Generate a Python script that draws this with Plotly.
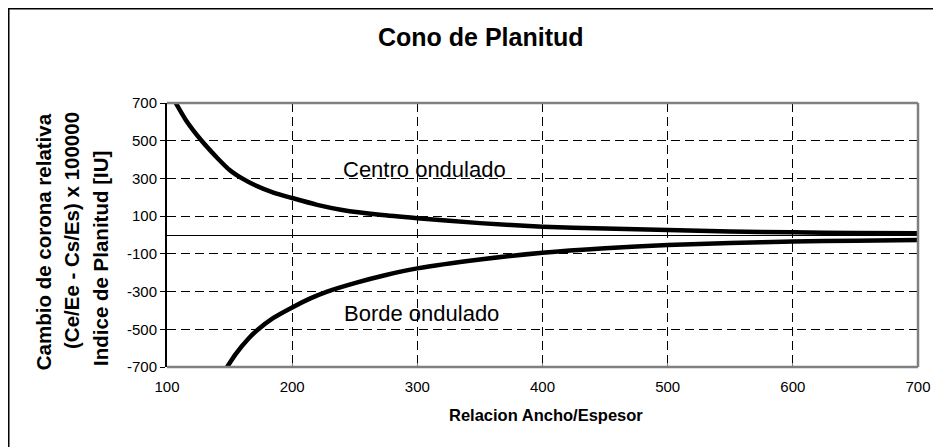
import plotly.graph_objects as go

# ---- data ----
centro_x = [107, 115, 127, 140, 150, 160, 170, 185, 200, 220, 240, 270, 300, 350, 400, 450, 500, 550, 600, 650, 700]
centro_y = [700, 610, 505, 410, 345, 300, 265, 225, 196, 160, 133, 107, 89, 63, 44, 34, 26, 19, 14, 11, 9]

borde_x = [148, 155, 165, 172, 185, 200, 215, 228, 250, 275, 300, 350, 400, 450, 500, 550, 600, 650, 700]
borde_y = [-700, -630, -550, -505, -440, -384, -335, -300, -255, -212, -177, -130, -94, -70, -53, -43, -35, -30, -26]

x_ticks = [100, 200, 300, 400, 500, 600, 700]
y_ticks = [-700, -500, -300, -100, 100, 300, 500, 700]

title_text = "Cono de Planitud"
x_title = "Relacion Ancho/Espesor"
y_title_lines = ["Cambio de corona relativa", "(Ce/Ee - Cs/Es) x 100000", "Indice de Planitud [IU]"]
label_centro = "Centro ondulado"
label_borde = "Borde ondulado"

FONT = "Liberation Sans, Arial, sans-serif"

fig = go.Figure()
fig.add_trace(go.Scatter(x=centro_x, y=centro_y, mode="lines",
                         line=dict(color="black", width=4.5, shape="spline", smoothing=0.6),
                         showlegend=False, hoverinfo="skip"))
fig.add_trace(go.Scatter(x=borde_x, y=borde_y, mode="lines",
                         line=dict(color="black", width=4.5, shape="spline", smoothing=0.6),
                         showlegend=False, hoverinfo="skip"))

grid = dict(showgrid=True, gridcolor="black", gridwidth=1, griddash="9px,5px")

fig.update_xaxes(range=[100, 700], tickvals=x_ticks, ticktext=[str(v) for v in x_ticks],
                 tickfont=dict(family=FONT, size=15, color="black"),
                 ticks="inside", ticklen=4, tickcolor="#808080", ticklabelstandoff=9,
                 showline=False, zeroline=False, **grid)
fig.update_yaxes(range=[-700, 700], tickvals=y_ticks, ticktext=[str(v) for v in y_ticks],
                 tickfont=dict(family=FONT, size=15, color="black"),
                 ticks="outside", ticklen=5, tickcolor="black", tickwidth=1,
                 showline=True, linecolor="black", linewidth=2,
                 zeroline=True, zerolinecolor="black", zerolinewidth=1, **grid)

shapes = [
    # plot frame (top, right, bottom) in grey
    dict(type="line", xref="paper", yref="paper", x0=0, x1=1, y0=1, y1=1, line=dict(color="#808080", width=2.5)),
    dict(type="line", xref="paper", yref="paper", x0=1, x1=1, y0=0, y1=1, line=dict(color="#808080", width=2.5)),
    dict(type="line", xref="paper", yref="paper", x0=0, x1=1, y0=0, y1=0, line=dict(color="#808080", width=2.5)),
    # outer chart frame (top and left edges visible, right/bottom run off the page)
    dict(type="rect", xref="paper", yref="paper", x0=-0.2107, x1=1.3, y0=-0.7, y1=1.357,
         line=dict(color="black", width=1.5), fillcolor="rgba(0,0,0,0)"),
]

annotations = [
    dict(text=f"<b>{title_text}</b>", xref="paper", yref="paper", x=0.418, y=1.25,
         xanchor="center", yanchor="middle", showarrow=False,
         font=dict(family=FONT, size=25, color="black")),
    dict(text=f"<b>{x_title}</b>", xref="paper", yref="paper", x=0.505, y=-0.182,
         xanchor="center", yanchor="middle", showarrow=False,
         font=dict(family=FONT, size=16.5, color="black")),
    dict(text=label_centro, xref="x", yref="y", x=306, y=345,
         xanchor="center", yanchor="middle", showarrow=False,
         font=dict(family=FONT, size=22, color="black")),
    dict(text=label_borde, xref="x", yref="y", x=303, y=-415,
         xanchor="center", yanchor="middle", showarrow=False,
         font=dict(family=FONT, size=22, color="black")),
]
y_pos = [(-0.165, 0.473), (-0.1265, 0.519), (-0.0879, 0.413)]
for line, (xp, yp) in zip(y_title_lines, y_pos):
    annotations.append(dict(text=f"<b>{line}</b>", xref="paper", yref="paper", x=xp, y=yp,
                            xanchor="center", yanchor="middle", textangle=-90, showarrow=False,
                            font=dict(family=FONT, size=20.5, color="black")))

# the page body adds an 8px offset, so the margins are reduced by 8px on top/left
fig.update_layout(width=941, height=447, margin=dict(l=159, r=31, t=95, b=88),
                  paper_bgcolor="white", plot_bgcolor="white",
                  shapes=shapes, annotations=annotations,
                  font=dict(family=FONT, color="black"))

fig.write_html("out.html")
